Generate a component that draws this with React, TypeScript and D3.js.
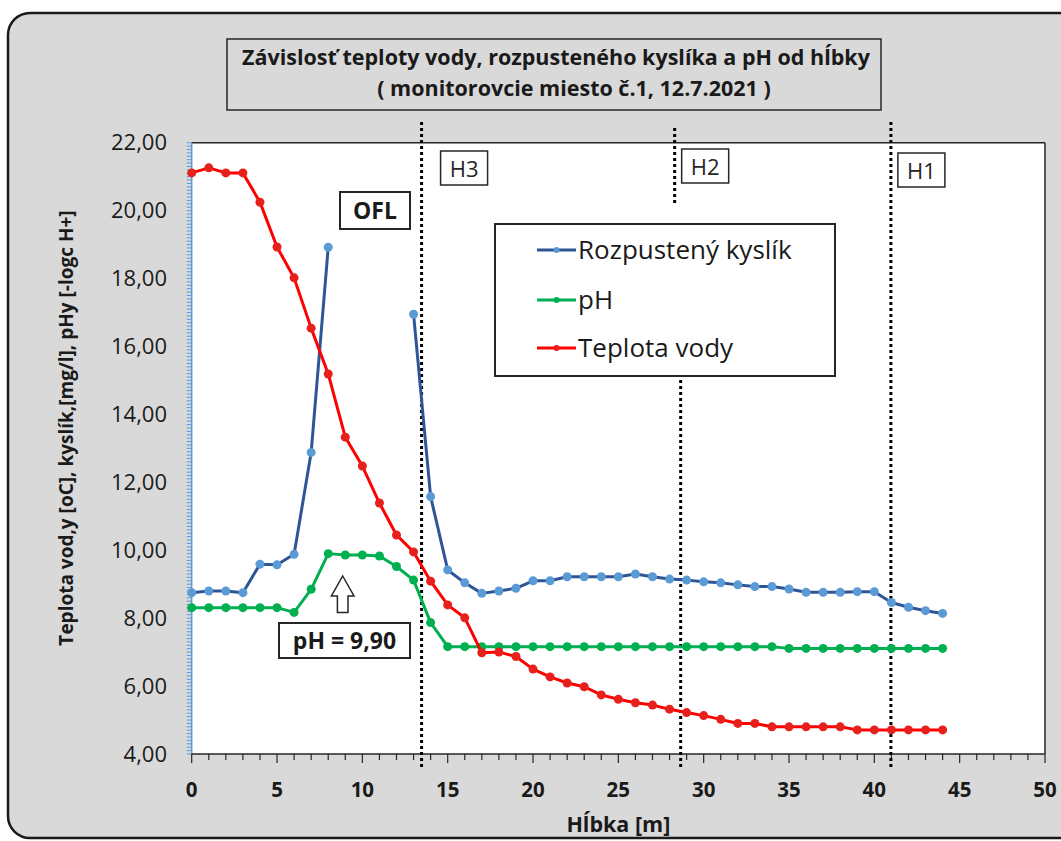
import React from 'react';
import * as d3 from 'd3';

// depth [m]
const depth = [0, 1, 2, 3, 4, 5, 6, 7, 8, 9, 10, 11, 12, 13, 14, 15, 16, 17, 18, 19, 20, 21, 22,
  23, 24, 25, 26, 27, 28, 29, 30, 31, 32, 33, 34, 35, 36, 37, 38, 39, 40, 41, 42, 43, 44];

// Rozpustený kyslík [mg/l] (no values between 9 and 12 m)
const oxygen = [8.75, 8.8, 8.8, 8.75, 9.59, 9.57, 9.88, 12.88, 18.92, null, null, null, null,
  16.95, 11.58, 9.42, 9.04, 8.73, 8.8, 8.88, 9.1, 9.1, 9.22, 9.22, 9.22, 9.22, 9.3, 9.22, 9.15,
  9.12, 9.07, 9.04, 8.98, 8.93, 8.93, 8.86, 8.76, 8.76, 8.76, 8.78, 8.78, 8.46, 8.32, 8.22, 8.14];

// pH
const ph = [8.31, 8.31, 8.31, 8.31, 8.31, 8.31, 8.17, 8.85, 9.9, 9.86, 9.86, 9.83, 9.52, 9.12,
  7.87, 7.16, 7.16, 7.16, 7.16, 7.16, 7.16, 7.16, 7.16, 7.16, 7.16, 7.16, 7.16, 7.16, 7.16, 7.16,
  7.16, 7.16, 7.16, 7.16, 7.16, 7.11, 7.11, 7.11, 7.11, 7.11, 7.11, 7.11, 7.11, 7.11, 7.11];

// Teplota vody [oC]
const temperature = [21.11, 21.26, 21.11, 21.11, 20.25, 18.93, 18.02, 16.54, 15.19, 13.33, 12.48,
  11.39, 10.45, 9.95, 9.09, 8.39, 8.01, 6.98, 7.0, 6.87, 6.5, 6.27, 6.09, 5.98, 5.74, 5.61, 5.51,
  5.44, 5.32, 5.22, 5.13, 5.02, 4.9, 4.9, 4.8, 4.8, 4.8, 4.8, 4.8, 4.71, 4.71, 4.71, 4.71, 4.71, 4.71];

const seriesNames = ['Rozpustený kyslík', 'pH', 'Teplota vody'];
const lineColors = ['#2f5597', '#00b050', '#ff0000'];
const dotColors = ['#5b9bd5', '#00b050', '#e8201c'];

// horizons: label + depth of the dotted line
const horizons = [
  { label: 'H3', at: 13.47 },
  { label: 'H2', at: 28.3 },
  { label: 'H1', at: 40.97 },
];

const title1 = 'Závislosť teploty vody, rozpusteného kyslíka a pH od hĺbky';
const title2 = '( monitorovcie miesto č.1, 12.7.2021 )';
const xTitle = 'Hĺbka [m]';
const yTitle = 'Teplota vod,y [oC], kyslík,[mg/l], pHy [-logc H+]';

const FONT = "'Open Sans', sans-serif";

export default function App() {
  const W = 1061, H = 841;
  const x = d3.scaleLinear().domain([0, 50]).range([191.7, 1045]);
  const y = d3.scaleLinear().domain([4, 22]).range([754, 142.7]);
  const fmt = (v: number) => d3.format('.2f')(v).replace('.', ',');

  const series = [oxygen, ph, temperature];
  const line = (vals: (number | null)[]) =>
    d3.line<number>()
      .defined((d, i) => vals[i] != null)
      .x(d => x(d))
      .y((d, i) => y(vals[i] as number))(depth);

  const yMinor = y.ticks(180);
  const yMajor = d3.range(4, 22.01, 2);
  const xMinor = d3.range(0, 51, 1);
  const xMajor = x.ticks(10);

  const legendY = [250, 300, 348];
  const dotted = { stroke: '#000', strokeWidth: 3, strokeDasharray: '3,3' };

  return (
    <svg width={W} height={H} style={{ position: 'absolute', left: 0, top: 0, background: '#fff' }}
      fontFamily={FONT}>
      <rect x={8} y={13} width={1090} height={825} rx={22} fill="#d9d9d9" stroke="#1a1a1a" strokeWidth={2.5} />

      {/* title */}
      <rect x={227} y={39} width={654} height={71} fill="#d9d9d9" stroke="#262626" strokeWidth={1.5} />
      <text x={556} y={65} textAnchor="middle" fontSize={21.5} fontWeight="bold" fill="#1a1a1a">{title1}</text>
      <text x={574} y={96} textAnchor="middle" fontSize={21.5} fontWeight="bold" fill="#1a1a1a">{title2}</text>

      {/* plot area */}
      <rect x={x(0)} y={y(22)} width={x(50) - x(0)} height={y(4) - y(22)} fill="#fff" />
      <line x1={x(0)} x2={x(50)} y1={y(22)} y2={y(22)} stroke="#262626" strokeWidth={1.5} />
      <line x1={x(50)} x2={x(50)} y1={y(22)} y2={y(4)} stroke="#262626" strokeWidth={1.5} />

      {/* y axis */}
      {yMinor.map(t => (
        <line key={'ym' + t} x1={x(0) - 5} x2={x(0)} y1={y(t)} y2={y(t)} stroke="#5b9bd5" strokeWidth={1} />
      ))}
      <line x1={x(0)} x2={x(0)} y1={y(22)} y2={y(4)} stroke="#5b9bd5" strokeWidth={1.5} />
      {yMajor.map(t => (
        <text key={'yl' + t} x={167} y={y(t) + 7.5} textAnchor="end" fontSize={22} fill="#1a1a1a">{fmt(t)}</text>
      ))}

      {/* x axis */}
      <line x1={x(0)} x2={x(50)} y1={y(4)} y2={y(4)} stroke="#262626" strokeWidth={1.5} />
      {xMinor.map(t => (
        <line key={'xm' + t} x1={x(t)} x2={x(t)} y1={y(4)} y2={y(4) + (t % 5 === 0 ? 9 : 6)} stroke="#262626" strokeWidth={1.2} />
      ))}
      {xMajor.map(t => (
        <text key={'xl' + t} x={x(t)} y={797} textAnchor="middle" fontSize={20.5} fontWeight="bold" fill="#1a1a1a">{t}</text>
      ))}
      <text x={(x(0) + x(50)) / 2} y={832} textAnchor="middle" fontSize={21.5} fontWeight="bold" fill="#1a1a1a">{xTitle}</text>
      <text transform="translate(73,428) rotate(-90)" textAnchor="middle" fontSize={19}
        fontWeight="bold" fill="#1a1a1a">{yTitle}</text>

      {/* horizon lines */}
      <line x1={x(horizons[0].at)} x2={x(horizons[0].at)} y1={122} y2={770} {...dotted} />
      <line x1={x(horizons[1].at)} x2={x(horizons[1].at)} y1={128} y2={205} {...dotted} />
      <line x1={x(horizons[1].at) + 6} x2={x(horizons[1].at) + 6} y1={380} y2={770} {...dotted} />
      <line x1={x(horizons[2].at)} x2={x(horizons[2].at)} y1={122} y2={770} {...dotted} />
      {horizons.map((h, i) => {
        const bx = x(h.at) + [19, 7, 7][i];
        const by = [151, 149, 153][i];
        return (
          <g key={h.label}>
            <rect x={bx} y={by} width={47} height={34} fill="#fff" stroke="#262626" strokeWidth={1.5} />
            <text x={bx + 23.5} y={by + 26} textAnchor="middle" fontSize={22} fill="#262626">{h.label}</text>
          </g>
        );
      })}

      {/* series */}
      {series.map((vals, si) => (
        <g key={seriesNames[si]}>
          <path d={line(vals) || ''} fill="none" stroke={lineColors[si]} strokeWidth={3} strokeLinejoin="round" />
          {depth.map((d, i) => vals[i] == null ? null : (
            <circle key={i} cx={x(d)} cy={y(vals[i] as number)} r={4.5} fill={dotColors[si]} />
          ))}
        </g>
      ))}

      {/* OFL */}
      <rect x={340} y={192} width={70} height={37} fill="#fff" stroke="#262626" strokeWidth={2} />
      <text x={375} y={219} textAnchor="middle" fontSize={23} fontWeight="bold" fill="#1a1a1a">OFL</text>

      {/* pH annotation */}
      <path d="M342.7,576 L354,596 L348,596 L348,612.5 L337.4,612.5 L337.4,596 L331.4,596 Z" fill="#fff" stroke="#262626" strokeWidth={1.5} />
      <rect x={279} y={623} width={131} height={35} fill="#fff" stroke="#262626" strokeWidth={2} />
      <text x={344.5} y={649} textAnchor="middle" fontSize={23} fontWeight="bold" fill="#1a1a1a">pH = 9,90</text>

      {/* legend */}
      <rect x={495} y={224} width={340} height={152} fill="#fff" stroke="#262626" strokeWidth={2} />
      {seriesNames.map((n, i) => (
        <g key={'lg' + n}>
          <line x1={537} x2={576} y1={legendY[i]} y2={legendY[i]} stroke={lineColors[i]} strokeWidth={3} />
          <circle cx={556.5} cy={legendY[i]} r={3} fill={dotColors[i]} />
          <text x={578} y={legendY[i] + 9} fontSize={26} fill="#1a1a1a">{n}</text>
        </g>
      ))}
    </svg>
  );
}
